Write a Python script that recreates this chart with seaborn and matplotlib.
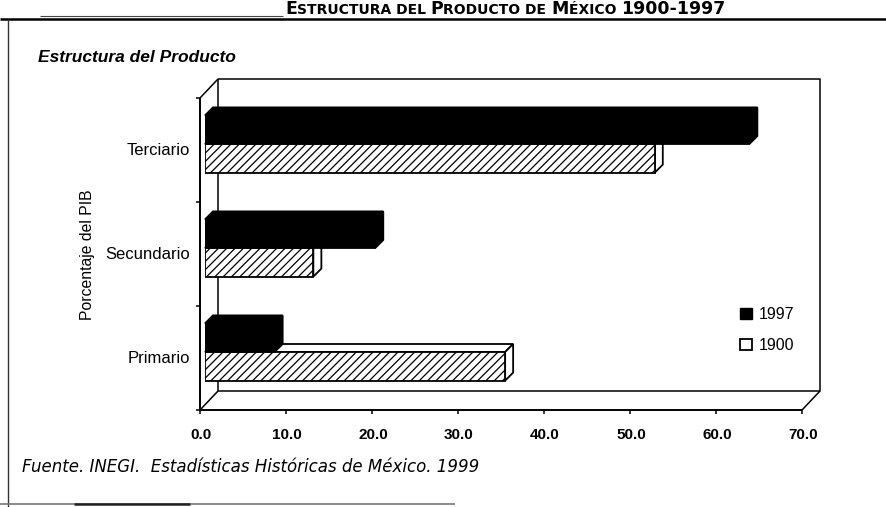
import numpy as np
import pandas as pd
import matplotlib
matplotlib.use("Agg")
import matplotlib.pyplot as plt
import seaborn as sns
from matplotlib.lines import Line2D
from matplotlib.patches import Polygon, Patch
from matplotlib.transforms import ScaledTranslation

# ---- data -------------------------------------------------------------
sectores = ["Terciario", "Secundario", "Primario"]
valores_1997 = [63.3, 19.8, 8.1]
valores_1900 = [52.3, 12.6, 34.9]
anios = ["1997", "1900"]
xticks = [0, 10, 20, 30, 40, 50, 60, 70]
xtick_labels = ["0.0", "10.0", "20.0", "30.0", "40.0", "50.0", "60.0", "70.0"]

df = pd.DataFrame({
    "Sector": sectores * 2,
    "Año": [anios[0]] * len(sectores) + [anios[1]] * len(sectores),
    "Porcentaje": valores_1997 + valores_1900,
})

# ---- style ------------------------------------------------------------
sns.set_theme(style="white")
plt.rcParams["font.family"] = ["Liberation Sans", "DejaVu Sans"]
plt.rcParams["hatch.linewidth"] = 0.9
plt.rcParams["hatch.color"] = "black"
for key in ("text.color", "axes.labelcolor", "xtick.color", "ytick.color"):
    plt.rcParams[key] = "black"

W, H = 887, 507
fig = plt.figure(figsize=(W / 100, H / 100), dpi=100)
fig.patch.set_facecolor("white")


def fx(px):
    return px / W


def fy(py):
    return 1 - py / H


def fig_line(xs, ys, lw=1.0, color="black", z=2, **kw):
    fig.add_artist(Line2D([fx(x) for x in xs], [fy(y) for y in ys],
                          lw=lw, color=color, transform=fig.transFigure,
                          solid_capstyle="butt", zorder=z, **kw))


# plane where bar front faces sit (pixel box)
L, R, T, B = 205, 807, 92, 404
XMAX = 70
ax = fig.add_axes([fx(L), fy(B), (R - L) / W, (B - T) / H])
ax.set_facecolor("none")
ax.set_zorder(1)

sns.barplot(data=df, y="Sector", x="Porcentaje", hue="Año",
            hue_order=anios, order=sectores,
            palette={"1997": "black", "1900": "white"}, saturation=1,
            orient="h", width=0.55, edgecolor="black", linewidth=1.3,
            legend=False, ax=ax)
ax.set_xlim(0, XMAX)
ax.set_ylim(len(sectores) - 0.5, -0.5)
for s in ax.spines.values():
    s.set_visible(False)
ax.set_xlabel("")
ax.set_ylabel("")

# ---- 3-D depth of the bars ------------------------------------------
depth_px = 8
ddx = depth_px / ((R - L) / XMAX)
ddy = depth_px / ((B - T) / len(sectores))
for p in list(ax.patches):
    fc = p.get_facecolor()
    dark = fc[0] < 0.5
    z = 3 if dark else 2
    p.set_zorder(z)
    if not dark:
        p.set_hatch("////")
    x0, w = p.get_x(), p.get_width()
    y0, h = p.get_y(), p.get_height()
    top = [(x0, y0), (x0 + ddx, y0 - ddy), (x0 + w + ddx, y0 - ddy), (x0 + w, y0)]
    side = [(x0 + w, y0), (x0 + w + ddx, y0 - ddy),
            (x0 + w + ddx, y0 + h - ddy), (x0 + w, y0 + h)]
    for poly in (top, side):
        ax.add_patch(Polygon(poly, closed=True, facecolor=fc, edgecolor="black",
                             lw=1.3, zorder=z - 0.1, clip_on=False,
                             joinstyle="miter"))

# ---- axis labels ------------------------------------------------------
ax.set_xticks(xticks)
ax.set_xticklabels(xtick_labels, fontsize=11, fontweight="bold")
ax.tick_params(axis="x", length=0, pad=17)
for lab in ax.get_xticklabels():
    lab.set_transform(lab.get_transform() +
                      ScaledTranslation(-4 / 100, 0, fig.dpi_scale_trans))

ax.set_yticks(range(len(sectores)))
ax.set_yticklabels(sectores, fontsize=12)
ax.tick_params(axis="y", length=0, pad=11)
for lab in ax.get_yticklabels():
    lab.set_transform(lab.get_transform() +
                      ScaledTranslation(0, -5 / 100, fig.dpi_scale_trans))

# ---- box of the 3-D chart (front plane, back wall, floor) -----------
fo = (-5, 6)    # front plane offset (px)
bo = (13, -13)  # back wall offset (px)
FL, FR, FT, FB = L + fo[0], R + fo[0], T + fo[1], B + fo[1]
BL, BR, BT, BB = L + bo[0], R + bo[0], T + bo[1], B + bo[1]
# back wall and floor edges sit behind the bars
fig_line([BL, BR, BR, BL, BL], [BT, BT, BB, BB, BT], lw=1.1, z=0)
fig_line([FL, BL], [FT, BT], lw=1.1, z=0)
fig_line([FL, BL], [FB, BB], lw=1.1, z=0)
fig_line([FR, BR], [FB, BB], lw=1.1, z=0)
fig_line([FL, FL], [FT, FB], lw=1.4, z=0)
fig_line([FL, FR], [FB, FB], lw=1.4, z=0)
px_per_unit = (R - L) / XMAX
for v in xticks:
    xp = FL + v * px_per_unit
    fig_line([xp, xp], [FB, FB + 4], lw=1.1, z=0)
for k in range(len(sectores) + 1):
    yp = FT + k * (FB - FT) / len(sectores)
    fig_line([FL - 4, FL], [yp, yp], lw=1.1, z=0)

fig.text(fx(88), fy(255), "Porcentaje del PIB", rotation=90,
         ha="center", va="center", fontsize=11.3)

# ---- legend -----------------------------------------------------------
handles = [Patch(facecolor="black", edgecolor="black"),
           Patch(facecolor="white", edgecolor="black", lw=1.3)]
leg = fig.legend(handles, anios, loc="center left",
                 bbox_to_anchor=(fx(726), fy(330)), frameon=False, fontsize=11.5,
                 handlelength=0.7, handleheight=0.7, handletextpad=0.45,
                 labelspacing=1.0)
leg.set_zorder(5)

# ---- headings, source, frame ------------------------------------------
fig.text(fx(38), fy(58), "Estructura del Producto", fontsize=12.5,
         fontweight="bold", fontstyle="italic", ha="left", va="center")

# small-caps style title built from pieces of two sizes
renderer = fig.canvas.get_renderer()
title_parts = [("E", 12.5), ("STRUCTURA DEL ", 10), ("P", 12.5),
               ("RODUCTO DE ", 10), ("M", 12.5), ("ÉXICO ", 10),
               ("1900-1997", 12.5)]
xcur = 285
for txt, size in title_parts:
    t = fig.text(fx(xcur), fy(14.5), txt, fontsize=size, fontweight="bold",
                 ha="left", va="baseline", family=["DejaVu Sans"])
    bb = t.get_window_extent(renderer)
    xcur = bb.x1

fig_line([0, W], [19, 19], lw=1.8)
fig_line([40, 283], [16, 16], lw=0.8, color="#444444")
fig_line([8, 8], [19, H], lw=1.0, color="#333333")
fig_line([0, 455], [504, 504], lw=1.2, color="#777777")
fig_line([74, 190], [504, 504], lw=1.8, color="#222222")

fig.text(fx(22), fy(467),
         "Fuente. INEGI.  Estadísticas Históricas de México. 1999",
         fontsize=12, fontstyle="italic", ha="left", va="center",
         family=["DejaVu Sans"])

fig.savefig("out.png", dpi=100, facecolor="white")
